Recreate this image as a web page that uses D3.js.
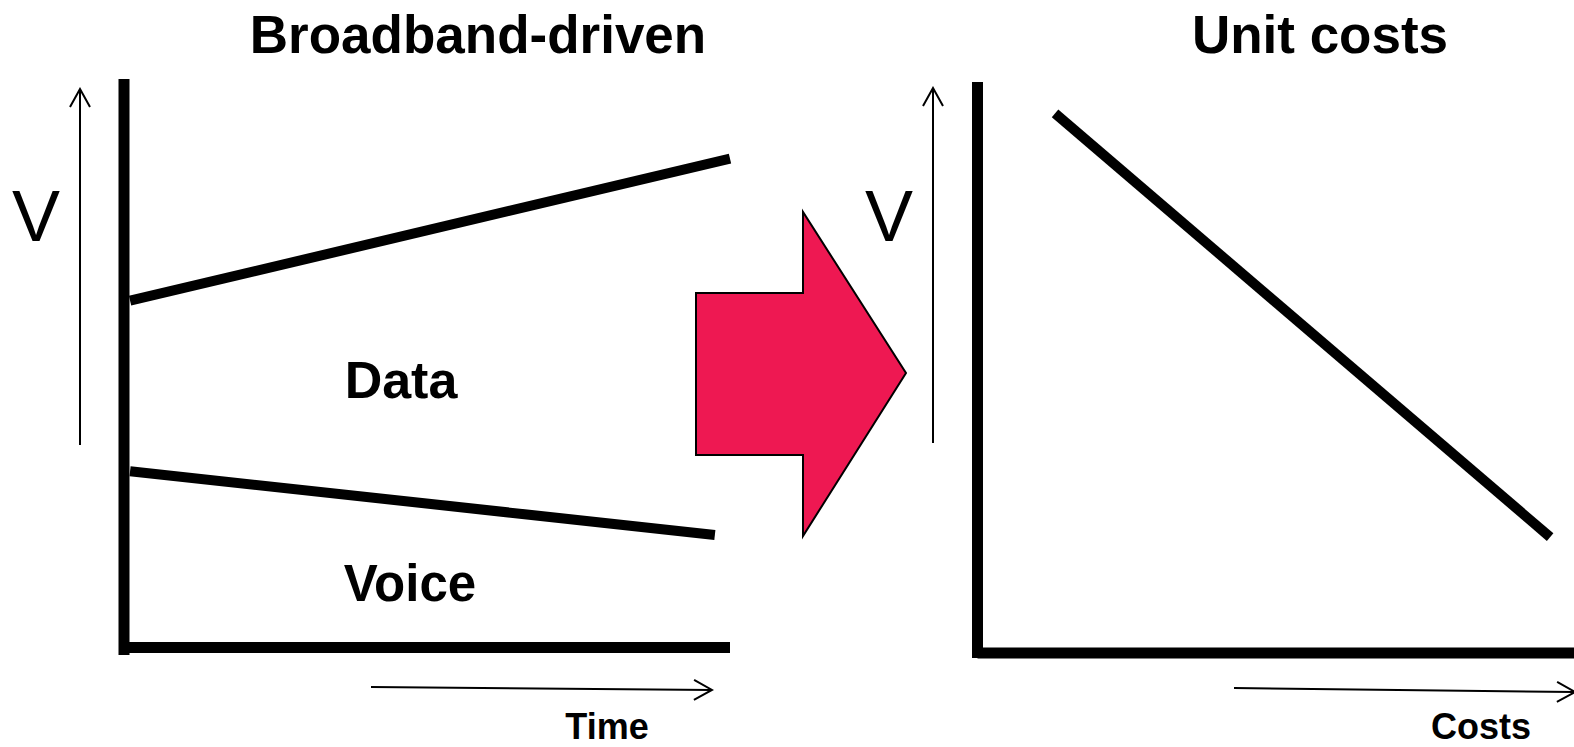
<!DOCTYPE html>
<html>
<head>
<meta charset="utf-8">
<script src="https://cdn.jsdelivr.net/npm/d3@7"></script>
<style>
  html, body { margin:0; padding:0; background:#fff; }
  svg { display:block; font-family:"Liberation Sans", Arial, sans-serif; }
</style>
</head>
<body>
<div id="plot"></div>
<script>
// conceptual values, both panels on a 0..100 scale
var dataLine  = [{t:1,  v:61}, {t:100, v:86}]
var voiceLine = [{t:1,  v:31}, {t:97.5, v:19.8}]
var costLine  = [{t:13, v:94.5}, {t:96, v:20.3}]

var titles = ["Broadband-driven", "Unit costs"]
var areaLabels = ["Data", "Voice"]
var axisLabels = ["Time", "Costs"]
var yLabel = "V"

window.addEventListener("load", main)

function main(){
  let svg = d3.select("#plot")
      .append("svg")
      .attr("width", 1574)
      .attr("height", 747)

  // scales
  let xL = d3.scaleLinear().domain([0,100]).range([124,730])
  let yL = d3.scaleLinear().domain([0,100]).range([647.5,79])
  let xR = d3.scaleLinear().domain([0,100]).range([977.5,1574])
  let yR = d3.scaleLinear().domain([0,100]).range([653,82])

  let lineL = d3.line().x(d => xL(d.t)).y(d => yL(d.v))
  let lineR = d3.line().x(d => xR(d.t)).y(d => yR(d.v))

  // arrowhead for the thin arrows
  svg.append("defs").append("marker")
      .attr("id","chev")
      .attr("markerUnits","userSpaceOnUse")
      .attr("viewBox","-20 -12 22 24")
      .attr("markerWidth",22).attr("markerHeight",24)
      .attr("refX",0).attr("refY",0)
      .attr("orient","auto")
    .append("path")
      .attr("d","M-18,-10L0,0L-18,10")
      .attr("fill","none").attr("stroke","#000").attr("stroke-width",2)

  let thin = function(x1,y1,x2,y2){
    svg.append("line")
      .attr("x1",x1).attr("y1",y1).attr("x2",x2).attr("y2",y2)
      .attr("stroke","#000").attr("stroke-width",2)
      .attr("marker-end","url(#chev)")
  }

  // left panel axes
  svg.append("line").attr("x1",xL(0)).attr("x2",xL(0)).attr("y1",79).attr("y2",655)
      .attr("stroke","#000").attr("stroke-width",11)
  svg.append("line").attr("x1",xL(0)).attr("x2",xL(100)).attr("y1",yL(0)).attr("y2",yL(0))
      .attr("stroke","#000").attr("stroke-width",11)

  svg.append("g").selectAll("path")
      .data([dataLine, voiceLine])
      .enter().append("path")
      .attr("d", lineL)
      .attr("fill","none").attr("stroke","#000").attr("stroke-width",10)

  // right panel axes
  svg.append("line").attr("x1",xR(0)).attr("x2",xR(0)).attr("y1",82).attr("y2",658)
      .attr("stroke","#000").attr("stroke-width",11)
  svg.append("line").attr("x1",xR(0)).attr("x2",xR(100)).attr("y1",yR(0)).attr("y2",yR(0))
      .attr("stroke","#000").attr("stroke-width",11)

  svg.append("path")
      .datum(costLine)
      .attr("d", lineR)
      .attr("fill","none").attr("stroke","#000").attr("stroke-width",10)

  // thin direction arrows
  thin(80,445,80,89)
  thin(371,687,712,690)
  thin(933,443,933,88)
  thin(1234,688,1575,692)

  // big red arrow between the panels
  let arrowPts = [[696,293],[803,293],[803,212],[906,373],[803,536],[803,455],[696,455]]
  svg.append("path")
      .attr("d", d3.line()(arrowPts) + "Z")
      .attr("fill","#EE1852").attr("stroke","#000").attr("stroke-width",2)
      .attr("stroke-linejoin","miter")

  // text
  let txt = function(s,x,y,size,weight){
    svg.append("text").text(s)
      .attr("x",x).attr("y",y)
      .attr("text-anchor","middle")
      .attr("font-size",size).attr("font-weight",weight)
      .attr("fill","#000")
  }
  txt(titles[0], 478, 53, 53, "bold")
  txt(titles[1], 1320, 53, 53, "bold")
  txt(areaLabels[0], 401, 398, 52, "bold")
  txt(areaLabels[1], 410, 601, 51, "bold")
  txt(axisLabels[0], 607, 739, 36, "bold")
  txt(axisLabels[1], 1481, 739, 36, "bold")
  txt(yLabel, 36, 241, 72, "normal")
  txt(yLabel, 889, 241, 72, "normal")
}
</script>
</body>
</html>
